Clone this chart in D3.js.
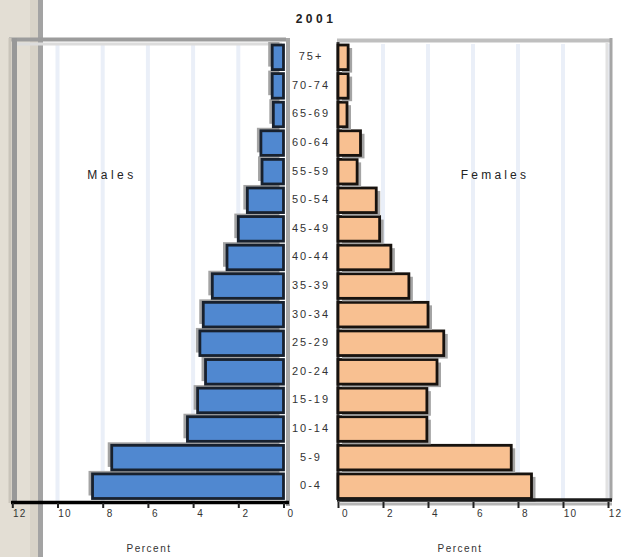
<!DOCTYPE html>
<html>
<head>
<meta charset="utf-8">
<script src="https://cdn.jsdelivr.net/npm/d3@7"></script>
<style>
  html, body { margin: 0; padding: 0; background: #fff; }
  svg { display: block; font-family: Arial, "Liberation Sans", sans-serif; }
</style>
</head>
<body>
<svg id="chart" width="622" height="557"></svg>
<script>
// Population pyramid: share of population (%) by five-year age group
const ageGroups = ["0-4", "5-9", "10-14", "15-19", "20-24", "25-29", "30-34", "35-39",
                   "40-44", "45-49", "50-54", "55-59", "60-64", "65-69", "70-74", "75+"];
const malePct   = [8.45, 7.6, 4.25, 3.8, 3.45, 3.7, 3.55, 3.15, 2.5, 2.0, 1.6, 0.95, 1.0, 0.45, 0.5, 0.5];
const femalePct = [8.6, 7.7, 3.95, 3.95, 4.4, 4.7, 4.0, 3.15, 2.35, 1.85, 1.7, 0.85, 1.0, 0.4, 0.45, 0.45];
const tickValues = [0, 2, 4, 6, 8, 10, 12];
const titleText = "2001";
const maleLabel = "Males";
const femaleLabel = "Females";
const axisTitle = "Percent";

const svg = d3.select("#chart");

// scales
const xL = d3.scaleLinear().domain([0, 12]).range([283.5, 12.3]);
const xR = d3.scaleLinear().domain([0, 12]).range([338, 608]);
const y = d3.scaleBand().domain(ageGroups.slice().reverse()).range([43, 500.5]).paddingInner(0.14).paddingOuter(0.07);

// vertical gridlines
const grid = svg.append("g");
tickValues.filter(v => v > 0).forEach(v => {
  grid.append("line").attr("x1", xL(v)).attr("x2", xL(v)).attr("y1", 44).attr("y2", 501)
    .attr("stroke", "#eaeff8").attr("stroke-width", 4);
  grid.append("line").attr("x1", xR(v)).attr("x2", xR(v)).attr("y1", 44).attr("y2", 499)
    .attr("stroke", "#eaeff8").attr("stroke-width", 4);
});

// window strip on the left edge
svg.append("rect").attr("x", 0).attr("y", 0).attr("width", 38).attr("height", 557).attr("fill", "#e3ded4");
svg.append("rect").attr("x", 30).attr("y", 0).attr("width", 8).attr("height", 557).attr("fill", "#d8d3c8");
svg.append("rect").attr("x", 38).attr("y", 0).attr("width", 5).attr("height", 557).attr("fill", "#a3a3a3");

// left panel frame
const frame = svg.append("g");
frame.append("line").attr("x1", 9).attr("x2", 286).attr("y1", 39.5).attr("y2", 39.5).attr("stroke", "#9c9c9c").attr("stroke-width", 4);
frame.append("line").attr("x1", 16).attr("x2", 282).attr("y1", 44).attr("y2", 44).attr("stroke", "#dcdcdc").attr("stroke-width", 3);
frame.append("line").attr("x1", 10).attr("x2", 10).attr("y1", 38).attr("y2", 503).attr("stroke", "#c9c4ba").attr("stroke-width", 3);
frame.append("line").attr("x1", 14.5).attr("x2", 14.5).attr("y1", 38).attr("y2", 503).attr("stroke", "#989898").attr("stroke-width", 5);
frame.append("line").attr("x1", 288).attr("x2", 288).attr("y1", 38).attr("y2", 506).attr("stroke", "#a8a8a8").attr("stroke-width", 4);

// right panel frame
frame.append("line").attr("x1", 337).attr("x2", 612).attr("y1", 40.5).attr("y2", 40.5).attr("stroke", "#bfbfbf").attr("stroke-width", 4);
frame.append("line").attr("x1", 607).attr("x2", 607).attr("y1", 43).attr("y2", 498).attr("stroke", "#e2e2e2").attr("stroke-width", 3);
frame.append("line").attr("x1", 611).attr("x2", 611).attr("y1", 38).attr("y2", 500).attr("stroke", "#a6a6a6").attr("stroke-width", 3);
frame.append("line").attr("x1", 338).attr("x2", 338).attr("y1", 42).attr("y2", 500).attr("stroke", "#3a3a3a").attr("stroke-width", 3);

// bars with drop shadow
const bars = svg.append("g");
ageGroups.forEach((age, i) => {
  const yy = y(age), h = y.bandwidth();
  // male (left)
  const mx = xL(malePct[i]), mw = xL(0) - xL(malePct[i]);
  bars.append("rect").attr("x", mx - 4).attr("y", yy - 3).attr("width", mw).attr("height", h)
    .attr("fill", "#a4a4a4");
  bars.append("rect").attr("x", mx).attr("y", yy).attr("width", mw).attr("height", h)
    .attr("fill", "#5088d0").attr("stroke", "#18212e").attr("stroke-width", 2.8);
  // female (right)
  const fw = xR(femalePct[i]) - xR(0);
  bars.append("rect").attr("x", xR(0) + 4).attr("y", yy + 3).attr("width", fw).attr("height", h)
    .attr("fill", "#a4a4a4");
  bars.append("rect").attr("x", xR(0)).attr("y", yy).attr("width", fw).attr("height", h)
    .attr("fill", "#f8c091").attr("stroke", "#17120e").attr("stroke-width", 2.8);
});

// axes
function styleAxis(g) {
  g.select(".domain").remove();
  g.selectAll(".tick line").attr("stroke", "#222").attr("stroke-width", 2);
  g.selectAll(".tick text").attr("fill", "#333").attr("font-size", 10).attr("letter-spacing", 1.2)
    .attr("dx", 7).attr("dy", 6);
}
svg.append("line").attr("x1", 11).attr("x2", 289).attr("y1", 502.5).attr("y2", 502.5).attr("stroke", "#000").attr("stroke-width", 3.5);
svg.append("line").attr("x1", 340).attr("x2", 612).attr("y1", 504).attr("y2", 504).attr("stroke", "#b5b5b5").attr("stroke-width", 3);
svg.append("line").attr("x1", 337).attr("x2", 612).attr("y1", 500).attr("y2", 500).attr("stroke", "#1a1a1a").attr("stroke-width", 3.5);

svg.append("g").attr("transform", "translate(0,503)")
  .call(d3.axisBottom(xL).tickValues(tickValues).tickFormat(d3.format("d")).tickSize(5))
  .call(styleAxis);
svg.append("g").attr("transform", "translate(0,502)")
  .call(d3.axisBottom(xR).tickValues(tickValues).tickFormat(d3.format("d")).tickSize(6))
  .call(styleAxis);

// age group labels between the panels
svg.append("g").selectAll("text").data(ageGroups).join("text")
  .attr("x", 311).attr("y", d => y(d) + y.bandwidth() / 2)
  .attr("text-anchor", "middle").attr("dominant-baseline", "middle")
  .attr("font-size", 11).attr("letter-spacing", 2).attr("fill", "#333")
  .text(d => d);

// title, series labels and axis titles
svg.append("text").attr("x", 316).attr("y", 20).attr("text-anchor", "middle").attr("dominant-baseline", "middle")
  .attr("font-size", 12).attr("font-weight", "bold").attr("letter-spacing", 3.5).attr("fill", "#222").text(titleText);
svg.append("text").attr("x", 112).attr("y", 176).attr("text-anchor", "middle").attr("dominant-baseline", "middle")
  .attr("font-size", 12).attr("letter-spacing", 3.5).attr("fill", "#222").text(maleLabel);
svg.append("text").attr("x", 495).attr("y", 176).attr("text-anchor", "middle").attr("dominant-baseline", "middle")
  .attr("font-size", 12).attr("letter-spacing", 3.2).attr("fill", "#222").text(femaleLabel);
svg.append("text").attr("x", 149).attr("y", 549).attr("text-anchor", "middle").attr("dominant-baseline", "middle")
  .attr("font-size", 10).attr("letter-spacing", 1.5).attr("fill", "#333").text(axisTitle);
svg.append("text").attr("x", 460).attr("y", 549).attr("text-anchor", "middle").attr("dominant-baseline", "middle")
  .attr("font-size", 10).attr("letter-spacing", 1.5).attr("fill", "#333").text(axisTitle);
</script>
</body>
</html>
